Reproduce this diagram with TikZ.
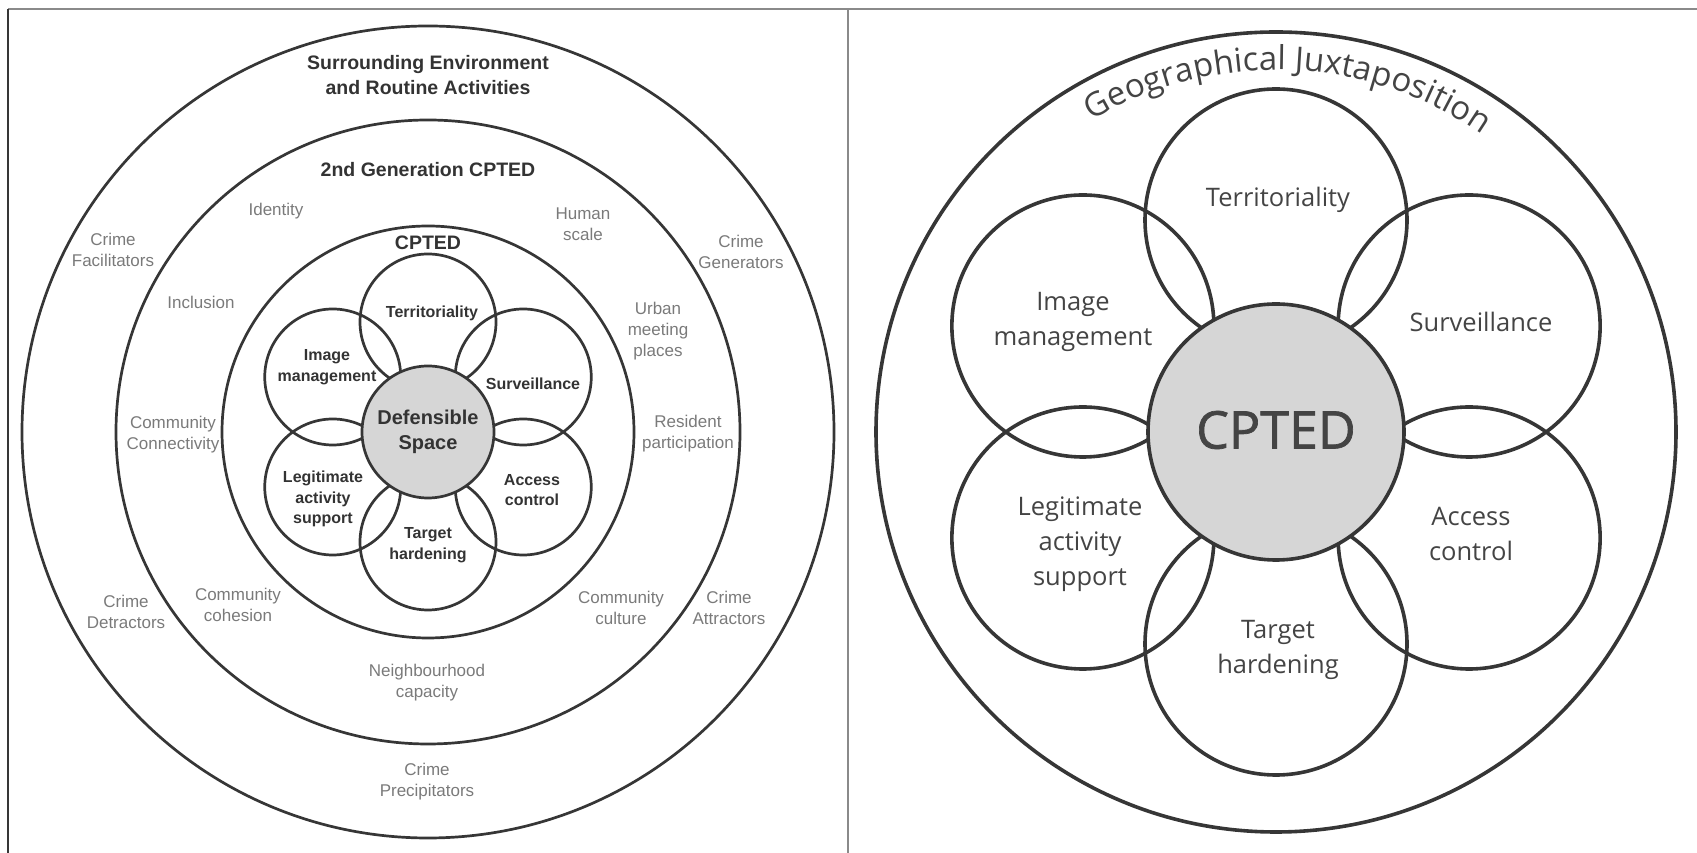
\documentclass[tikz,border=0pt]{standalone}
\usepackage{fontspec}
\setmainfont{Liberation Sans}
\newfontfamily\segoe{Open Sans}
\newfontfamily\segoebold{Open Sans}[FakeBold=1.3]
\usetikzlibrary{decorations.text}
\definecolor{linecol}{HTML}{363636}
\definecolor{txtdark}{HTML}{333333}
\definecolor{txtgray}{HTML}{7A7A7A}
\definecolor{rtxt}{HTML}{444444}
\definecolor{fillgray}{HTML}{D6D6D6}
\definecolor{framegray}{HTML}{8A8A8A}
\tikzset{
	ring/.style = {draw = linecol, line width = 2.7pt},
	bigring/.style = {draw = linecol, line width = 3.6pt},
	graylbl/.style = {text = txtgray, align = center, font = \fontsize{17}{21}\selectfont},
	boldlbl/.style = {text = txtdark, align = center, font = \bfseries\fontsize{16}{20.5}\selectfont},
	titlelbl/.style = {text = txtdark, align = center, font = \bfseries\fontsize{19.5}{25}\selectfont},
	rlbl/.style = {text = rtxt, align = center, font = \segoe\fontsize{25.5}{35}\selectfont}
}
\begin{document}
\begin{tikzpicture}[x = 1pt, y = 1pt]
	\useasboundingbox (0,0) rectangle (1697,853);
	\draw[framegray, line width = 2pt] (8,844)--(1697,844);
	\draw[linecol, line width = 2.4pt] (8,844)--(8,0);
	\draw[framegray, line width = 2pt] (848,844)--(848,0);
	\coordinate (L) at (428,421);
	\coordinate (R) at (1276,421);
	\draw[ring] (L) circle[radius = 406];
	\draw[ring] (L) circle[radius = 312];
	\draw[ring] (L) circle[radius = 206];
	\draw[ring] (L) ++(90:110) circle[radius = 68];
	\draw[ring] (L) ++(30:110) circle[radius = 68];
	\draw[ring] (L) ++(-30:110) circle[radius = 68];
	\draw[ring] (L) ++(-90:110) circle[radius = 68];
	\draw[ring] (L) ++(-150:110) circle[radius = 68];
	\draw[ring] (L) ++(150:110) circle[radius = 68];
	\draw[ring, fill = fillgray] (L) circle[radius = 66];
	\node[titlelbl] (surround) at (428,778) {Surrounding Environment\\and Routine Activities};
	\node[titlelbl] (gen2) at (428,683) {2nd Generation CPTED};
	\node[titlelbl] (cpted) at (428,610) {CPTED};
	\node[graylbl] (facil) at (113,603) {Crime\\Facilitators};
	\node[graylbl] (ident) at (276,642) {Identity};
	\node[graylbl] (human) at (583,629) {Human\\scale};
	\node[graylbl] (gener) at (741,601) {Crime\\Generators};
	\node[graylbl] (inclu) at (201,551) {Inclusion};
	\node[graylbl] (urban) at (658,522) {Urban\\meeting\\places};
	\node[graylbl] (connect) at (173,418) {Community\\Connectivity};
	\node[graylbl] (resid) at (688,419) {Resident\\participation};
	\node[graylbl] (detract) at (126,241) {Crime\\Detractors};
	\node[graylbl] (cohesion) at (238,248) {Community\\cohesion};
	\node[graylbl] (culture) at (621,245) {Community\\culture};
	\node[graylbl] (attract) at (729,245) {Crime\\Attractors};
	\node[graylbl] (neigh) at (427,170) {Neighbourhood\\capacity};
	\node[graylbl] (precip) at (427,71) {Crime\\Precipitators};
	\node[boldlbl] (terr) at (432,540) {Territoriality};
	\node[boldlbl] (image) at (327,486) {Image\\management};
	\node[boldlbl] (surv) at (533,469) {Surveillance};
	\node[boldlbl] (legit) at (323,354) {Legitimate\\activity\\support};
	\node[boldlbl] (access) at (532,363) {Access\\control};
	\node[boldlbl] (target) at (428,308) {Target\\hardening};
	\node[boldlbl, font = \bfseries\fontsize{20}{25}\selectfont] (defsp) at (428,421) {Defensible\\Space};
	\draw[bigring] (R) circle[radius = 400];
	\draw[bigring] (R) ++(90:212) circle[radius = 131];
	\draw[bigring] (R) ++(30:223 and 212) circle[radius = 131];
	\draw[bigring] (R) ++(-30:223 and 212) circle[radius = 131];
	\draw[bigring] (R) ++(-90:212) circle[radius = 131];
	\draw[bigring] (R) ++(-150:223 and 212) circle[radius = 131];
	\draw[bigring] (R) ++(150:223 and 212) circle[radius = 131];
	\draw[bigring, fill = fillgray] (R) circle[radius = 128];
	\path[decorate, decoration = {text along path, text align = center,
		text = {|\segoe\fontsize{33}{33}\selectfont\color{rtxt}|Geographical Juxtaposition}}]
		(R) ++(150:362) arc[start angle = 150, end angle = 26, radius = 362];
	\node[rlbl] (rterr) at (1278,653) {Territoriality};
	\node[rlbl] (rimage) at (1073,531) {Image\\management};
	\node[rlbl] (rsurv) at (1481,531) {Surveillance};
	\node[rlbl, font = \segoebold\fontsize{52}{60}\selectfont] (rcpted) at (1276,423) {CPTED};
	\node[rlbl] (rlegit) at (1080,309) {Legitimate\\activity\\support};
	\node[rlbl] (raccess) at (1471,319) {Access\\control};
	\node[rlbl] (rtarget) at (1278,203) {Target\\hardening};
\end{tikzpicture}
\end{document}
